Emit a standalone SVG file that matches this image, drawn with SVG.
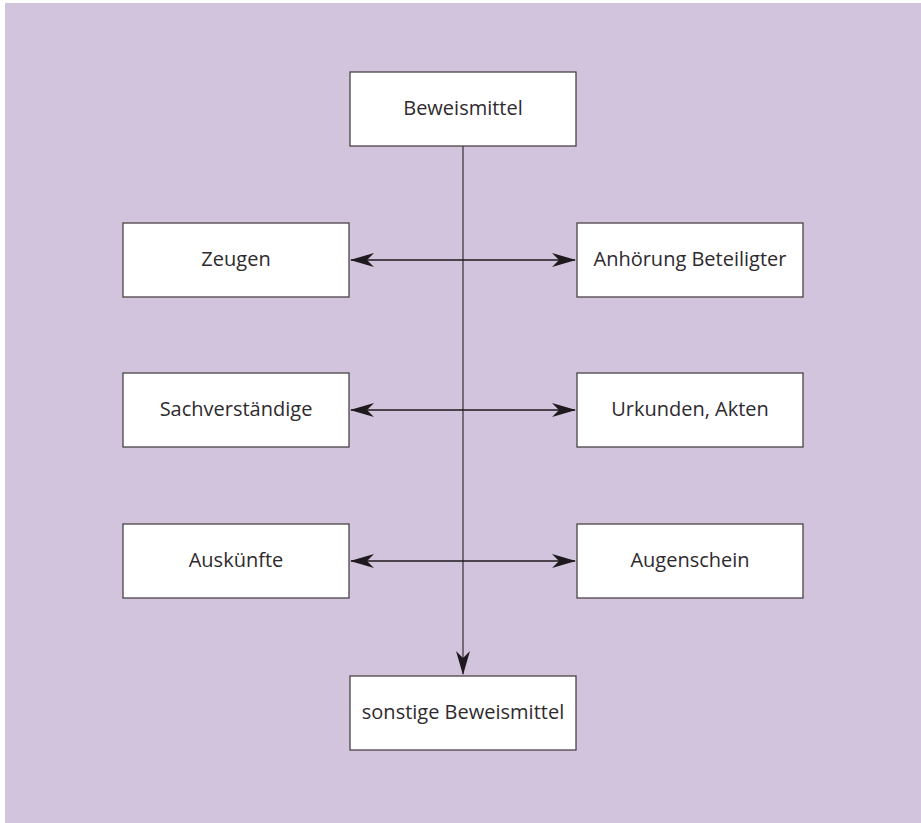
<svg xmlns="http://www.w3.org/2000/svg" width="921" height="823" viewBox="0 0 921 823">
<defs>
<style>
.box{fill:#ffffff;stroke:#4a4448;stroke-width:1.3}
.lbl{font-family:"Open Sans","Noto Sans","Liberation Sans",sans-serif;font-size:20px;fill:#2e2a2e;text-anchor:middle;dominant-baseline:central}
.vline{stroke:#5e5560;stroke-width:1.6;fill:none}
.hline{stroke:#1e1a1e;stroke-width:1.4;fill:none}
</style>
<marker id="ah" viewBox="0 0 24 14" refX="23" refY="7" markerWidth="24" markerHeight="14" markerUnits="userSpaceOnUse" orient="auto-start-reverse">
<path d="M0,0 L24,7 L0,14 L7,7 Z" fill="#1e1a1e"/>
</marker>
</defs>
<rect x="5" y="3" width="916" height="820" fill="#d2c4dc"/>
<g id="connectors">
<line class="vline" x1="463" y1="146" x2="463" y2="674" marker-end="url(#ah)"/>
<line class="hline" x1="351" y1="260" x2="575" y2="260" marker-start="url(#ah)" marker-end="url(#ah)"/>
<line class="hline" x1="351" y1="410" x2="575" y2="410" marker-start="url(#ah)" marker-end="url(#ah)"/>
<line class="hline" x1="351" y1="561" x2="575" y2="561" marker-start="url(#ah)" marker-end="url(#ah)"/>
</g>
<g id="beweismittel"><rect class="box" x="350" y="72" width="226" height="74"/><text class="lbl" x="463" y="107">Beweismittel</text></g>
<g id="zeugen"><rect class="box" x="123" y="223" width="226" height="74"/><text class="lbl" x="236" y="258">Zeugen</text></g>
<g id="anhoerung"><rect class="box" x="577" y="223" width="226" height="74"/><text class="lbl" x="690" y="258">Anhörung Beteiligter</text></g>
<g id="sachverstaendige"><rect class="box" x="123" y="373" width="226" height="74"/><text class="lbl" x="236" y="408">Sachverständige</text></g>
<g id="urkunden"><rect class="box" x="577" y="373" width="226" height="74"/><text class="lbl" x="690" y="408">Urkunden, Akten</text></g>
<g id="auskuenfte"><rect class="box" x="123" y="524" width="226" height="74"/><text class="lbl" x="236" y="559">Auskünfte</text></g>
<g id="augenschein"><rect class="box" x="577" y="524" width="226" height="74"/><text class="lbl" x="690" y="559">Augenschein</text></g>
<g id="sonstige"><rect class="box" x="350" y="676" width="226" height="74"/><text class="lbl" x="463" y="711">sonstige Beweismittel</text></g>
</svg>
